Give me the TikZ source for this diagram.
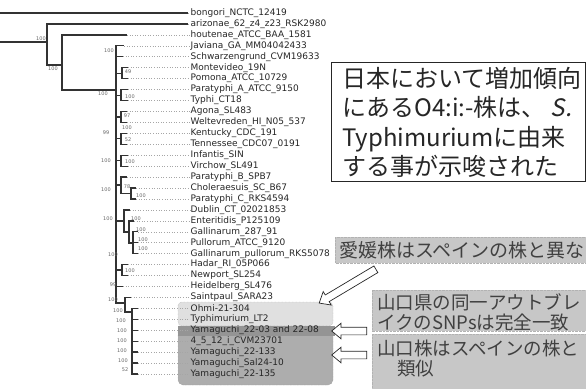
\documentclass[tikz,border=0pt]{standalone}
\usepackage{fontspec}
\setmainfont{DejaVu Sans}
\newfontfamily\labfont{DejaVu Sans}
\newfontfamily\jpfont{Noto Sans CJK JP}
\newfontfamily\jpitfont[FakeSlant=0.2]{Noto Sans CJK JP}
\usetikzlibrary{shapes.arrows}
\begin{document}
\begin{tikzpicture}[x=1pt,y=-1pt,
  tree/.style={black!80,line width=1.3pt},
  dotline/.style={black!35,dotted,line width=0.6pt},
  leaf/.style={anchor=west,inner sep=0.5pt,font=\labfont\fontsize{9}{10}\selectfont,text=black!85},
  bs/.style={font=\labfont\fontsize{5}{5}\selectfont,text=black!60,inner sep=0},
  jpbig/.style={anchor=base west,inner sep=0,font=\jpfont\fontsize{24}{28}\selectfont,text=black!85},
  jpmid/.style={anchor=base west,inner sep=0,font=\jpfont\fontsize{18.5}{22}\selectfont,text=black!75},
  grbox/.style={fill=black!22,draw=black!30,densely dotted},
  harrow/.style={single arrow,draw=black!85,fill=white,line width=0.7pt,inner sep=3.5pt,single arrow head extend=4pt,single arrow tip angle=80}]
\useasboundingbox (0,0) rectangle (586,388);

% highlight boxes behind leaf labels
\path[fill=black!12,draw=black!40,densely dotted,rounded corners=4pt] (178,302) rectangle (333,326);
\path[fill=black!32,draw=black!45,densely dotted,rounded corners=5pt] (178,326) rectangle (333,385);
\path[fill=black!42] (178,326) rectangle (335,336);

% internal nodes
\coordinate (b0) at (0,13);
\coordinate (r0) at (0,42);
\coordinate (A) at (47,42);
\coordinate (B) at (62,65);
\coordinate (C) at (116,90);
\coordinate (MP) at (122,73.5);
\coordinate (PT) at (121,95.5);
\coordinate (AW) at (121,117);
\coordinate (KT) at (121,138.5);
\coordinate (IV) at (121,160.5);
\coordinate (PB) at (121,185);
\coordinate (CP) at (131,193.5);
\coordinate (D) at (124,221);
\coordinate (E) at (129,232);
\coordinate (F) at (133,243);
\coordinate (HN) at (122,270);
\coordinate (G) at (125,303);
\coordinate (H) at (132,312);

\draw[tree] (r0) -- (A);
\draw[tree] (A) |- (B);
\draw[tree] (B) |- (C);
\foreach \ch in {MP,PT,AW,KT,IV,PB,D,HN,G} \draw[tree] (C) |- (\ch);
\draw[tree] (PB) |- (CP);
\draw[tree] (D) |- (E);
\draw[tree] (E) |- (F);
\draw[tree] (G) |- (H);

% leaves
\foreach \i/\pa/\ex/\lab in {
 0/b0/188/bongori\_NCTC\_12419,
 1/A/188/arizonae\_62\_z4\_z23\_RSK2980,
 2/B/127/houtenae\_ATCC\_BAA\_1581,
 3/C/124/Javiana\_GA\_MM04042433,
 4/C/123/Schwarzengrund\_CVM19633,
 5/MP/128/Montevideo\_19N,
 6/MP/128/Pomona\_ATCC\_10729,
 7/PT/128/Paratyphi\_A\_ATCC\_9150,
 8/PT/128/Typhi\_CT18,
 9/AW/127/Agona\_SL483,
 10/AW/127/Weltevreden\_HI\_N05\_537,
 11/KT/127/Kentucky\_CDC\_191,
 12/KT/127/Tennessee\_CDC07\_0191,
 13/IV/128/Infantis\_SIN,
 14/IV/128/Virchow\_SL491,
 15/PB/127/Paratyphi\_B\_SPB7,
 16/CP/136/Choleraesuis\_SC\_B67,
 17/CP/136/Paratyphi\_C\_RKS4594,
 18/D/130/Dublin\_CT\_02021853,
 19/E/134/Enteritidis\_P125109,
 20/F/138/Gallinarum\_287\_91,
 21/F/138/Pullorum\_ATCC\_9120,
 22/F/138/Gallinarum\_pullorum\_RKS5078,
 23/HN/128/Hadar\_RI\_05P066,
 24/HN/128/Newport\_SL254,
 25/C/123/Heidelberg\_SL476,
 26/G/131/Saintpaul\_SARA23,
 27/H/138/Ohmi-21-304,
 28/H/138/Typhimurium\_LT2,
 29/H/138/Yamaguchi\_22-03 and 22-08,
 30/H/138/4\_5\_12\_i\_CVM23701,
 31/H/138/Yamaguchi\_22-133,
 32/H/138/Yamaguchi\_Sal24-10,
 33/H/138/Yamaguchi\_22-135}{
  \pgfmathsetmacro\yy{13+10.94*\i}
  \node[leaf] (L\i) at (190,\yy) {\lab};
  \coordinate (S\i) at (\ex,\yy);
  \draw[tree] (\pa) |- (S\i);
  \draw[dotline] (S\i) -- (L\i.west);
}

% bootstrap values
\foreach \x/\y/\t [count=\k] in {
 41/39/100, 53/69/100, 103/94/100, 109/51/100, 128/72/49, 130/97/100,
 127/116/97, 127/128/100, 106/133/99, 128/140/52, 106/161/100, 130/162/100,
 106/190/100, 127/187/78, 141/196/100, 108/219/100, 136/219/100, 141/230/100,
 143/240/100, 143/249/100, 113/255/100, 130/271/100, 113/285/99, 113/300/100,
 118/311/100, 121/321/100, 122/331/100, 122/341/100, 122/351/100, 123/361/100,
 125/370/52}{
  \node[bs] (bs\k) at (\x,\y) {\t};
}

% main comment box
\path[draw=black!85,line width=0.9pt,fill=white] (331,62) rectangle (585,181);
\node[jpbig] (t1) at (342,87.5) {日本において増加傾向};
\node[jpbig] (t2) at (342,116.5) {にあるO4:i:-株は、 {\jpitfont S.}};
\node[jpbig] (t3) at (342,146) {Typhimuriumに由来};
\node[jpbig] (t4) at (342,175.5) {する事が示唆された};

% grey boxes
\path[grbox] (335,237) rectangle (590,263);
\node[jpmid,font=\jpfont\fontsize{19}{22}\selectfont] (t5) at (339,257) {愛媛株はスペインの株と異な};
\path[grbox] (372,290) rectangle (590,331);
\node[jpmid] (t6) at (377,309) {山口県の同一アウトブレ};
\node[jpmid] (t7) at (377,329) {イクのSNPsは完全一致};
\path[grbox] (372,334) rectangle (590,392);
\node[jpmid] (t8) at (377,355) {山口株はスペインの株と};
\node[jpmid] (t9) at (397,375) {類似};

% hollow arrows
\node[harrow,minimum height=66pt,rotate=210.8] (a1) at (349.5,285) {};
\node[harrow,minimum height=35pt,shape border rotate=180] (a2) at (351.5,331) {};
\node[harrow,minimum height=35pt,shape border rotate=180] (a3) at (351.5,355) {};
\end{tikzpicture}
\end{document}
